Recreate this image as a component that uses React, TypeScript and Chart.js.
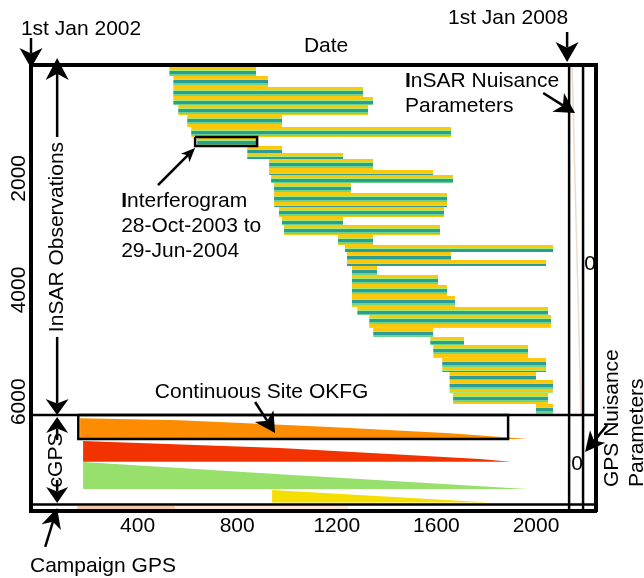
import React, { useEffect, useRef } from 'react';
import { Chart, registerables } from 'chart.js';

Chart.register(...registerables);

const FONT_FAMILY = '"Liberation Sans", Arial, Helvetica, sans-serif';
const FONT_SIZE = 21;

// ---- Axes: days since 1st Jan 2002 (x) and observation row (y, top to bottom) ----
const xRange = [-28, 2241];
const yRange = [-38, 7957];
const xTickValues = [400, 800, 1200, 1600, 2000];
const yTickValues = [2000, 4000, 6000];

// ---- InSAR interferograms (one per bar) ----
const obsStartDay = [527, 543, 543, 543, 563, 599, 615, 639, 840, 840, 928, 928, 936, 948, 948, 968, 980, 988, 1205, 1233, 1241, 1241, 1261, 1261, 1261, 1261, 1282, 1330, 1346, 1575, 1587, 1623, 1652, 1652, 1667, 2000];
const obsEndDay = [876, 924, 1306, 1346, 1326, 980, 1659, 876, 980, 1225, 1346, 1587, 1667, 1257, 1643, 1631, 1225, 1615, 1346, 2069, 1659, 2041, 1362, 1607, 1643, 1675, 2049, 2061, 1587, 1711, 1968, 2041, 2000, 2069, 2049, 2069];
const obsRowCount = [168, 197, 179, 144, 179, 214, 179, 162, 125, 107, 197, 90, 143, 179, 251, 179, 143, 179, 179, 125, 143, 108, 161, 179, 197, 197, 143, 233, 161, 143, 233, 251, 143, 233, 197, 197];
const highlightedObs = 7;

// ---- Block boundaries of the design matrix ----
const insarLastRow = 6238;
const cgpsLastRow = 7841;
const insarNuisanceDay = 2133;
const gpsNuisanceDay = 2189;
const nuisanceTraceDays = [2145, 2181];
const nuisanceTraceRows = [0, 6238];

// ---- Continuous GPS site OKFG (tapering components) ----
const okfgOrangeDays = [169, 571, 1174, 1656, 1969];
const okfgOrangeRows = [6294, 6330, 6455, 6563, 6670];
const okfgRedDays = [181, 972, 1775, 1900];
const okfgRedRows = [6704, 6829, 7026, 7075];
const okfgGreenDays = [181, 972, 1965];
const okfgGreenRows = [7080, 7297, 7563];
const okfgYellowDays = [940, 1816];
const okfgYellowRows = [7581, 7805];
const okfgBoxDays = [162, 1888];
const okfgBoxRows = [6238, 6670];

// ---- Campaign GPS ----
const campaignDays = [157, 551, 1245];
const campaignRows = [7868, 7940];

// ---- Colours ----
const STRIPE_PERIOD_PX = 9;
const STRIPE_BANDS: [string, number, number][] = [
  ['#FDC70C', 0.0, 0.32],
  ['#A3EC78', 0.32, 0.44],
  ['#2C9D95', 0.44, 0.8],
  ['#6CD58C', 0.8, 1.0],
];

// ---- Annotations (data units) ----
const textNotes = [
  { text: '1st Jan 2002', x: 173, y: -566, align: 'center' },
  { text: '1st Jan 2008', x: 1888, y: -763, align: 'center' },
  { text: 'Date', x: 1157, y: -261, align: 'center' },
  { text: 'InSAR Nuisance', x: 1474, y: 365, align: 'left', boldFirst: true },
  { text: 'Parameters', x: 1474, y: 813, align: 'left' },
  { text: 'Interferogram', x: 334, y: 2508, align: 'left', boldFirst: true },
  { text: '28-Oct-2003 to', x: 334, y: 2956, align: 'left' },
  { text: '29-Jun-2004', x: 334, y: 3404, align: 'left' },
  { text: 'Continuous Site OKFG', x: 898, y: 5934, align: 'center' },
  { text: 'Campaign GPS', x: -32, y: 9050, align: 'left' },
  { text: '0', x: 2217, y: 3534, align: 'center', middle: true },
  { text: '0', x: 2165, y: 7116, align: 'center', middle: true },
];
const rotatedNotes = [
  { text: 'InSAR Observations', x: 101, y: 3051, align: 'center' },
  { text: 'cGPS', x: 97, y: 7044, align: 'center' },
  { text: 'GPS Nuisance', x: 2330, y: 7527, align: 'left' },
  { text: 'Parameters', x: 2430, y: 7527, align: 'left' },
];
const arrowNotes = [
  { from: [-28, -512], to: [-28, 25], head: 20, width: 23 },
  { from: [2125, -620], to: [2125, -82], head: 20, width: 23 },
  { from: [2029, 473], to: [2157, 831], head: 20, width: 22 },
  { from: [482, 2120], to: [631, 1459], head: 14, width: 12 },
  { from: [872, 6005], to: [952, 6560], head: 20, width: 22 },
  { from: [77, 1260], to: [77, -154], head: 22, width: 23 },
  { from: [77, 4840], to: [77, 6238], head: 16, width: 23 },
  { from: [77, 6685], to: [77, 6273], head: 16, width: 22 },
  { from: [77, 7401], to: [77, 7813], head: 16, width: 22 },
  { from: [29, 8601], to: [77, 7903], head: 20, width: 20 },
  { from: [2286, 6417], to: [2197, 6900], head: 20, width: 20 },
];

function stripeFill(chart: any, top: number, bottom: number) {
  const ys = chart.scales && chart.scales.y;
  if (!ys) return '#2C9D95';
  const p0 = ys.getPixelForValue(top);
  const p1 = ys.getPixelForValue(bottom);
  const h = p1 - p0;
  if (!isFinite(h) || h <= 0) return '#2C9D95';
  const g = chart.ctx.createLinearGradient(0, p0, 0, p1);
  for (let s = 0; s < h; s += STRIPE_PERIOD_PX) {
    for (const [color, a, b] of STRIPE_BANDS) {
      const f0 = (s + a * STRIPE_PERIOD_PX) / h;
      if (f0 >= 1) break;
      const f1 = Math.min(1, (s + b * STRIPE_PERIOD_PX) / h);
      g.addColorStop(f0, color);
      g.addColorStop(f1, color);
    }
  }
  return g;
}

function lineDs(points: { x: number; y: number }[], color: string, width: number, order = 1) {
  return {
    data: points,
    borderColor: color,
    borderWidth: width,
    pointRadius: 0,
    fill: false,
    tension: 0,
    order,
  };
}

function areaDs(points: { x: number; y: number }[], base: number, color: any, order = 5) {
  return {
    data: points,
    borderColor: 'rgba(0,0,0,0)',
    borderWidth: 0,
    backgroundColor: color,
    pointRadius: 0,
    fill: { value: base },
    tension: 0,
    order,
  };
}

function wedge(days: number[], rows: number[], color: string) {
  const pts = days.map((d, i) => ({ x: d, y: rows[i] }));
  return areaDs(pts, rows[rows.length - 1], color);
}

function buildDatasets() {
  const ds: any[] = [];
  let row = 0;
  const rowTop: number[] = [];
  obsRowCount.forEach((n, i) => {
    const top = row;
    const bottom = row + n;
    rowTop.push(top);
    ds.push(
      areaDs(
        [{ x: obsStartDay[i], y: top }, { x: obsEndDay[i], y: top }],
        bottom,
        (ctx: any) => stripeFill(ctx.chart, top, bottom),
        6
      )
    );
    row = bottom;
  });
  ds.push(lineDs(nuisanceTraceDays.map((d, i) => ({ x: d, y: nuisanceTraceRows[i] })), '#EEDCCB', 1.5, 4));
  ds.push(wedge(okfgOrangeDays, okfgOrangeRows, '#FD8C00'));
  ds.push(wedge(okfgRedDays, okfgRedRows, '#F23300'));
  ds.push(wedge(okfgGreenDays, okfgGreenRows, '#98E06C'));
  ds.push(wedge(okfgYellowDays, okfgYellowRows, '#F4DF00'));
  ds.push(areaDs([{ x: campaignDays[0], y: campaignRows[0] }, { x: campaignDays[1], y: campaignRows[0] }], campaignRows[1], '#F7C9A4'));
  ds.push(areaDs([{ x: campaignDays[1], y: campaignRows[0] }, { x: campaignDays[2], y: campaignRows[0] }], campaignRows[1], '#FCE8D8'));
  ds.push(lineDs([{ x: xRange[0], y: insarLastRow }, { x: xRange[1], y: insarLastRow }], '#000', 2.5));
  ds.push(lineDs([{ x: xRange[0], y: cgpsLastRow }, { x: xRange[1], y: cgpsLastRow }], '#000', 2.5));
  ds.push(lineDs([{ x: insarNuisanceDay, y: yRange[0] }, { x: insarNuisanceDay, y: yRange[1] }], '#000', 2.5));
  ds.push(lineDs([{ x: gpsNuisanceDay, y: yRange[0] }, { x: gpsNuisanceDay, y: yRange[1] }], '#000', 2.5));
  ds.push(
    lineDs(
      [
        { x: okfgBoxDays[0], y: okfgBoxRows[0] },
        { x: okfgBoxDays[1], y: okfgBoxRows[0] },
        { x: okfgBoxDays[1], y: okfgBoxRows[1] },
        { x: okfgBoxDays[0], y: okfgBoxRows[1] },
        { x: okfgBoxDays[0], y: okfgBoxRows[0] },
      ],
      '#000',
      2.5
    )
  );
  const h = highlightedObs;
  const hx0 = obsStartDay[h] - 8;
  const hx1 = obsEndDay[h] + 4;
  const hy0 = rowTop[h];
  const hy1 = rowTop[h] + obsRowCount[h];
  ds.push(
    lineDs(
      [
        { x: hx0, y: hy0 },
        { x: hx1, y: hy0 },
        { x: hx1, y: hy1 },
        { x: hx0, y: hy1 },
        { x: hx0, y: hy0 },
      ],
      '#000',
      2.5
    )
  );
  return ds;
}

function drawArrow(ctx: CanvasRenderingContext2D, x1: number, y1: number, x2: number, y2: number, head: number, width: number) {
  const ang = Math.atan2(y2 - y1, x2 - x1);
  const ux = Math.cos(ang);
  const uy = Math.sin(ang);
  const nx = -uy;
  const ny = ux;
  const notch = head * 0.72;
  ctx.beginPath();
  ctx.moveTo(x1, y1);
  ctx.lineTo(x2 - ux * notch, y2 - uy * notch);
  ctx.lineWidth = 2.5;
  ctx.strokeStyle = '#000';
  ctx.stroke();
  ctx.beginPath();
  ctx.moveTo(x2, y2);
  ctx.lineTo(x2 - ux * head + nx * width / 2, y2 - uy * head + ny * width / 2);
  ctx.lineTo(x2 - ux * notch, y2 - uy * notch);
  ctx.lineTo(x2 - ux * head - nx * width / 2, y2 - uy * head - ny * width / 2);
  ctx.closePath();
  ctx.fillStyle = '#000';
  ctx.fill();
}

const annotationPlugin = {
  id: 'diagramNotes',
  afterDraw(chart: any) {
    const { ctx } = chart;
    const xs = chart.scales.x;
    const ys = chart.scales.y;
    const px = (v: number) => xs.getPixelForValue(v);
    const py = (v: number) => ys.getPixelForValue(v);
    ctx.save();
    const normal = `${FONT_SIZE}px ${FONT_FAMILY}`;
    const bold = `bold ${FONT_SIZE}px ${FONT_FAMILY}`;
    for (const a of arrowNotes) {
      drawArrow(ctx, px(a.from[0]), py(a.from[1]), px(a.to[0]), py(a.to[1]), a.head, a.width);
    }
    ctx.fillStyle = '#000';
    for (const t of textNotes as any[]) {
      const x = px(t.x);
      const y = py(t.y);
      ctx.textBaseline = t.middle ? 'middle' : 'alphabetic';
      if (t.boldFirst) {
        ctx.textAlign = 'left';
        ctx.font = bold;
        ctx.fillText(t.text[0], x, y);
        const w = ctx.measureText(t.text[0]).width;
        ctx.font = normal;
        ctx.fillText(t.text.slice(1), x + w, y);
      } else {
        ctx.font = normal;
        ctx.textAlign = t.align;
        ctx.fillText(t.text, x, y);
      }
    }
    for (const t of rotatedNotes) {
      ctx.save();
      ctx.translate(px(t.x), py(t.y));
      ctx.rotate(-Math.PI / 2);
      ctx.font = normal;
      ctx.textAlign = t.align as CanvasTextAlign;
      ctx.textBaseline = 'alphabetic';
      ctx.fillText(t.text, 0, 0);
      ctx.restore();
    }
    ctx.restore();
  },
};

export default function App() {
  const canvasRef = useRef<HTMLCanvasElement | null>(null);

  useEffect(() => {
    const canvas = canvasRef.current;
    if (!canvas) return;
    const tickFont = { family: FONT_FAMILY, size: FONT_SIZE };
    const frameBorder = { display: true, width: 4, color: '#000', z: 1 };
    const chart = new Chart(canvas, {
      type: 'line',
      data: { datasets: buildDatasets() },
      options: {
        animation: false,
        responsive: false,
        maintainAspectRatio: false,
        layout: { padding: 0 },
        plugins: { legend: { display: false }, tooltip: { enabled: false }, title: { display: false } },
        elements: { point: { radius: 0 }, line: { tension: 0 } },
        scales: {
          x: {
            type: 'linear',
            position: 'bottom',
            min: xRange[0],
            max: xRange[1],
            grid: { display: false, drawTicks: false },
            border: frameBorder,
            ticks: { color: '#000', font: tickFont, padding: 3, maxRotation: 0, minRotation: 0, autoSkip: false, callback: (v: any) => String(v) },
            afterBuildTicks: (s: any) => {
              s.ticks = xTickValues.map((v) => ({ value: v }));
            },
            afterFit: (s: any) => {
              s.height = 67;
            },
          },
          y: {
            type: 'linear',
            position: 'left',
            reverse: true,
            min: yRange[0],
            max: yRange[1],
            grid: { display: false, drawTicks: false },
            border: frameBorder,
            ticks: {
              color: '#000',
              font: tickFont,
              padding: -11.5,
              minRotation: 90,
              maxRotation: 90,
              crossAlign: 'center',
              autoSkip: false,
              callback: (v: any) => String(v),
            },
            afterBuildTicks: (s: any) => {
              s.ticks = yTickValues.map((v) => ({ value: v }));
            },
            afterFit: (s: any) => {
              s.width = 31;
            },
          },
          x2: {
            type: 'linear',
            axis: 'x',
            position: 'top',
            display: true,
            min: xRange[0],
            max: xRange[1],
            grid: { display: false, drawTicks: false },
            border: frameBorder,
            ticks: { display: false },
            afterFit: (s: any) => {
              s.height = 64.5;
            },
          },
          y2: {
            type: 'linear',
            axis: 'y',
            position: 'right',
            display: true,
            reverse: true,
            min: yRange[0],
            max: yRange[1],
            grid: { display: false, drawTicks: false },
            border: frameBorder,
            ticks: { display: false },
            afterFit: (s: any) => {
              s.width = 48;
            },
          },
        },
      } as any,
      plugins: [annotationPlugin],
    });
    return () => chart.destroy();
  }, []);

  return (
    <div style={{ position: 'absolute', left: 0, top: 0, width: 644, height: 578, background: '#fff' }}>
      <canvas ref={canvasRef} width={644} height={578} style={{ display: 'block', width: 644, height: 578 }} />
    </div>
  );
}
